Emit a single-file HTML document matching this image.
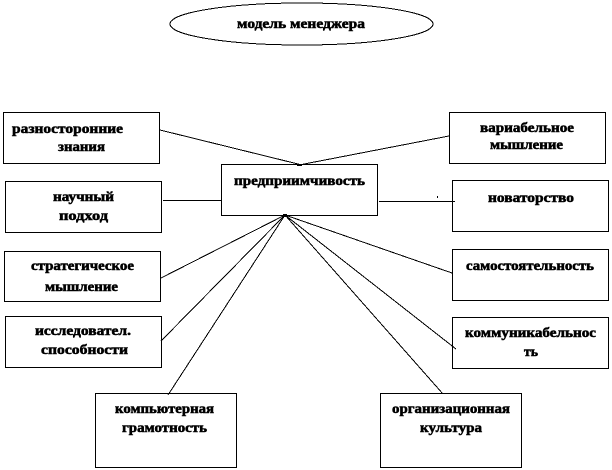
<!DOCTYPE html>
<html lang="ru">
<head>
<meta charset="utf-8">
<style>
html,body{margin:0;padding:0;background:#fff;width:612px;height:470px;overflow:hidden}
svg{display:block}
text{font-family:"Liberation Serif","Noto Serif CJK SC",serif;font-size:13.5px;font-weight:bold;fill:#000;stroke:#000;stroke-width:.55px}
.c{shape-rendering:crispEdges}
</style>
</head>
<body>
<svg width="612" height="470" viewBox="0 0 612 470" xmlns="http://www.w3.org/2000/svg">
<g fill="#fff" stroke="#000" stroke-width="1">
<ellipse cx="301.5" cy="24" rx="131.5" ry="21" class="c"/>
<rect class="c" x="3.5" y="112.5" width="156" height="51"/>
<rect class="c" x="5.5" y="181.5" width="156" height="51"/>
<rect class="c" x="4.5" y="251.5" width="156" height="50"/>
<rect class="c" x="5.5" y="316.5" width="156" height="51"/>
<rect class="c" x="95.5" y="393.5" width="141" height="74"/>
<rect class="c" x="221.5" y="164.5" width="156" height="51"/>
<rect class="c" x="449.5" y="112.5" width="156" height="51"/>
<rect class="c" x="452.5" y="180.5" width="156" height="51"/>
<rect class="c" x="452.5" y="249.5" width="156" height="51"/>
<rect class="c" x="452.5" y="317.5" width="156" height="51"/>
<rect class="c" x="380.5" y="393.5" width="141" height="74"/>
</g>
<g stroke="#000" stroke-width="1" fill="none" class="c">
<line x1="160" y1="130" x2="302" y2="165"/>
<line x1="449" y1="136" x2="299" y2="165"/>
<line x1="163" y1="200.500" x2="221" y2="200.500"/>
<line x1="379" y1="201.500" x2="455" y2="201.500"/>
<line x1="285" y1="215" x2="161" y2="278"/>
<line x1="285" y1="215" x2="161" y2="341"/>
<line x1="285" y1="215" x2="168" y2="395"/>
<line x1="285" y1="215" x2="443" y2="394"/>
<line x1="285" y1="215" x2="456" y2="349"/>
<line x1="285" y1="215" x2="452" y2="273"/>
</g>
<rect x="297" y="164" width="5" height="2" fill="#000"/>
<rect x="283" y="214" width="4" height="3" fill="#000"/>
<rect x="437" y="196" width="1" height="2" fill="#000"/>
<g>
<text x="237" y="28" textLength="128" lengthAdjust="spacingAndGlyphs">модель менеджера</text>
<text x="12" y="133" textLength="111" lengthAdjust="spacingAndGlyphs">разносторонние</text>
<text x="58" y="151" textLength="47" lengthAdjust="spacingAndGlyphs">знания</text>
<text x="53" y="201" textLength="61" lengthAdjust="spacingAndGlyphs">научный</text>
<text x="59" y="220" textLength="49" lengthAdjust="spacingAndGlyphs">подход</text>
<text x="31" y="270" textLength="103" lengthAdjust="spacingAndGlyphs">стратегическое</text>
<text x="45" y="291" textLength="73" lengthAdjust="spacingAndGlyphs">мышление</text>
<text x="35" y="335" textLength="96" lengthAdjust="spacingAndGlyphs">исследовател.</text>
<text x="41" y="354" textLength="87" lengthAdjust="spacingAndGlyphs">способности</text>
<text x="115" y="413" textLength="99" lengthAdjust="spacingAndGlyphs">компьютерная</text>
<text x="122" y="432" textLength="85" lengthAdjust="spacingAndGlyphs">грамотность</text>
<text x="234" y="185" textLength="131" lengthAdjust="spacingAndGlyphs">предприимчивость</text>
<text x="480" y="132" textLength="94" lengthAdjust="spacingAndGlyphs">вариабельное</text>
<text x="490" y="149" textLength="73" lengthAdjust="spacingAndGlyphs">мышление</text>
<text x="488" y="202" textLength="86" lengthAdjust="spacingAndGlyphs">новаторство</text>
<text x="466" y="270" textLength="128" lengthAdjust="spacingAndGlyphs">самостоятельность</text>
<text x="465" y="337" textLength="131" lengthAdjust="spacingAndGlyphs">коммуникабельнос</text>
<text x="524" y="356" textLength="14" lengthAdjust="spacingAndGlyphs">ть</text>
<text x="392" y="413" textLength="118" lengthAdjust="spacingAndGlyphs">организационная</text>
<text x="420" y="432" textLength="62" lengthAdjust="spacingAndGlyphs">культура</text>
</g>
</svg>
</body>
</html>
